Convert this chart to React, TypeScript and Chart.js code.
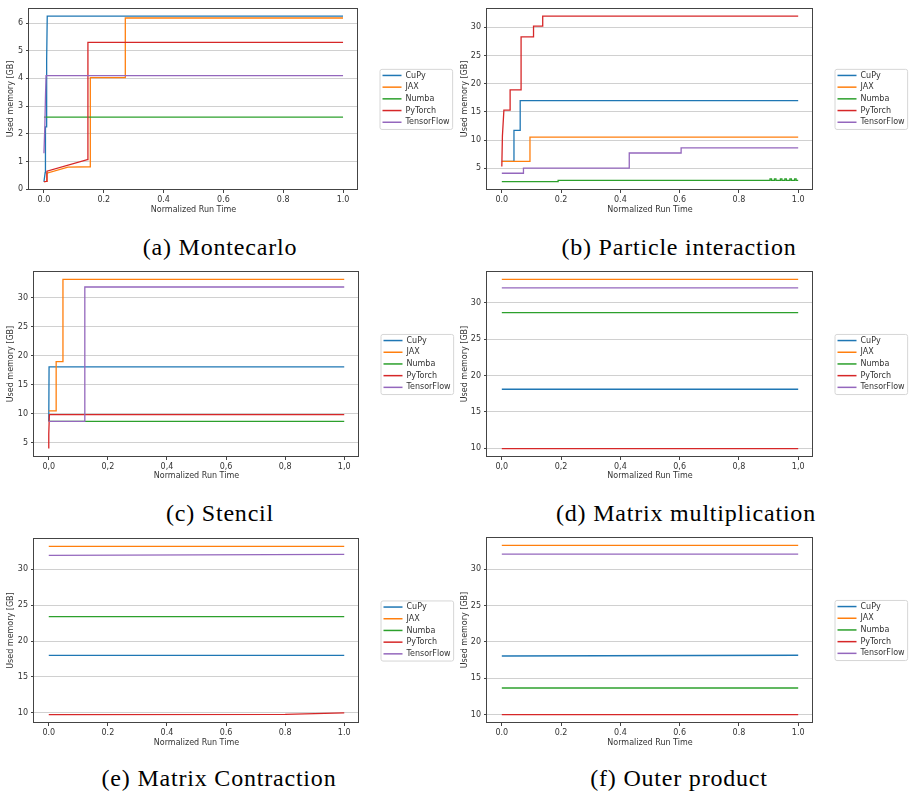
import React, { useEffect, useRef } from "react";
import { Chart, registerables } from "chart.js";

Chart.register(...registerables);

type Pt = [number, number];

// ---------- shared labels ----------
const seriesNames = ["CuPy", "JAX", "Numba", "PyTorch", "TensorFlow"];
const seriesColors = ["#1f77b4", "#ff7f0e", "#2ca02c", "#d62728", "#9467bd"];
const xTitle = "Normalized Run Time";
const yTitle = "Used memory [GB]";
const xTickValues = [0, 0.2, 0.4, 0.6, 0.8, 1.0];
const xTickLabelsDot = ["0.0", "0.2", "0.4", "0.6", "0.8", "1.0"];
const xTickLabelsComma = ["0,0", "0,2", "0,4", "0,6", "0,8", "1,0"];

// ---------- (a) Montecarlo ----------
const montecarloYTicks = [0, 1, 2, 3, 4, 5, 6];
const montecarloCuPy: Pt[] = [[0, 0.27], [0.004, 0.6], [0.005, 2.25], [0.008, 2.25], [0.009, 4.65], [0.011, 6.25], [1, 6.25]];
const montecarloJAX: Pt[] = [[0, 0.27], [0.008, 0.28], [0.01, 0.58], [0.08, 0.8], [0.155, 0.81], [0.155, 4.03], [0.272, 4.03], [0.272, 6.18], [1, 6.18]];
const montecarloNumba: Pt[] = [[0, 2.6], [1, 2.6]];
const montecarloPyTorch: Pt[] = [[0, 0.27], [0.008, 0.28], [0.01, 0.65], [0.145, 1.07], [0.147, 5.3], [1, 5.3]];
const montecarloTensorFlow: Pt[] = [[0, 1.3], [0.003, 2.3], [0.005, 3.3], [0.007, 4.1], [1, 4.1]];

// ---------- (b) Particle interaction ----------
const particleYTicks = [5, 10, 15, 20, 25, 30];
const particleCuPy: Pt[] = [[0, 6.2], [0.041, 6.2], [0.041, 11.7], [0.062, 11.7], [0.062, 17.0], [1, 17.0]];
const particleJAX: Pt[] = [[0, 6.2], [0.095, 6.2], [0.095, 10.5], [1, 10.5]];
const particleNumba: Pt[] = [
  [0, 2.6], [0.19, 2.6], [0.19, 2.85], [0.905, 2.85], [0.905, 3.1], [0.91, 3.1], [0.91, 2.85],
  [0.92, 2.85], [0.92, 3.1], [0.925, 3.1], [0.925, 2.85], [0.94, 2.85], [0.94, 3.1], [0.945, 3.1],
  [0.945, 2.85], [0.955, 2.85], [0.955, 3.1], [0.96, 3.1], [0.96, 2.85], [0.972, 2.85], [0.972, 3.1],
  [0.977, 3.1], [0.977, 2.85], [0.988, 2.85], [0.988, 3.1], [0.993, 3.1], [0.993, 2.85], [1, 2.85],
];
const particlePyTorch: Pt[] = [[0, 5.3], [0.002, 10.7], [0.007, 15.3], [0.028, 15.3], [0.028, 18.9], [0.065, 18.9], [0.065, 28.3], [0.107, 28.3], [0.107, 30.2], [0.138, 30.2], [0.138, 32.0], [1, 32.0]];
const particleTensorFlow: Pt[] = [[0, 4.1], [0.073, 4.1], [0.073, 5.0], [0.43, 5.0], [0.43, 7.7], [0.605, 7.7], [0.605, 8.6], [1, 8.6]];

// ---------- (c) Stencil ----------
const stencilYTicks = [5, 10, 15, 20, 25, 30];
const stencilCuPy: Pt[] = [[0, 8.7], [0.001, 18.1], [1, 18.1]];
const stencilJAX: Pt[] = [[0, 10.5], [0.025, 10.5], [0.025, 19.0], [0.048, 19.0], [0.048, 33.2], [1, 33.2]];
const stencilNumba: Pt[] = [[0, 8.7], [1, 8.7]];
const stencilPyTorch: Pt[] = [[0, 4.0], [0, 6.5], [0.002, 9.85], [1, 9.85]];
const stencilTensorFlow: Pt[] = [[0, 8.7], [0.122, 8.7], [0.122, 31.9], [1, 31.9]];

// ---------- (d) Matrix multiplication ----------
const matmulYTicks = [10, 15, 20, 25, 30];
const matmulCuPy: Pt[] = [[0, 18.1], [1, 18.1]];
const matmulJAX: Pt[] = [[0, 33.2], [1, 33.2]];
const matmulNumba: Pt[] = [[0, 28.65], [1, 28.65]];
const matmulPyTorch: Pt[] = [[0, 9.95], [1, 9.95]];
const matmulTensorFlow: Pt[] = [[0, 32.05], [1, 32.05]];

// ---------- (e) Matrix Contraction ----------
const contractionYTicks = [10, 15, 20, 25, 30];
const contractionCuPy: Pt[] = [[0, 18.0], [1, 18.0]];
const contractionJAX: Pt[] = [[0, 33.15], [1, 33.15]];
const contractionNumba: Pt[] = [[0, 23.4], [1, 23.4]];
const contractionPyTorch: Pt[] = [[0, 9.77], [0.8, 9.8], [1, 10.0]];
const contractionTensorFlow: Pt[] = [[0, 31.9], [1, 32.05]];

// ---------- (f) Outer product ----------
const outerYTicks = [10, 15, 20, 25, 30];
const outerCuPy: Pt[] = [[0, 18.05], [1, 18.15]];
const outerJAX: Pt[] = [[0, 33.25], [1, 33.25]];
const outerNumba: Pt[] = [[0, 13.65], [1, 13.65]];
const outerPyTorch: Pt[] = [[0, 10.0], [1, 10.0]];
const outerTensorFlow: Pt[] = [[0, 32.05], [1, 32.05]];

// ---------- layout (positions only) ----------
type Rect = { x: number; y: number; w: number; h: number };
type Area = { l: number; r: number; t: number; b: number };
type PanelCfg = {
  series: Pt[][];
  yTicks: number[];
  xLabels: string[];
  canvas: Rect;
  area: Area;
  yTitlePad: number;
  caption: string;
  capX: number;
  capBase: number;
};

const panels: PanelCfg[] = [
  {
    series: [montecarloCuPy, montecarloJAX, montecarloNumba, montecarloPyTorch, montecarloTensorFlow],
    yTicks: montecarloYTicks, xLabels: xTickLabelsDot,
    canvas: { x: 0, y: 0, w: 455, h: 215 }, area: { l: 29, r: 358, t: 5, b: 190 },
    yTitlePad: 6.5, caption: "(a) Montecarlo", capX: 220, capBase: 254.7,
  },
  {
    series: [particleCuPy, particleJAX, particleNumba, particlePyTorch, particleTensorFlow],
    yTicks: particleYTicks, xLabels: xTickLabelsDot,
    canvas: { x: 455, y: 0, w: 456, h: 215 }, area: { l: 487, r: 813, t: 5, b: 190 },
    yTitlePad: 5.2, caption: "(b) Particle interaction", capX: 679, capBase: 254.7,
  },
  {
    series: [stencilCuPy, stencilJAX, stencilNumba, stencilPyTorch, stencilTensorFlow],
    yTicks: stencilYTicks, xLabels: xTickLabelsComma,
    canvas: { x: 0, y: 262, w: 455, h: 219 }, area: { l: 34, r: 359, t: 271, b: 457 },
    yTitlePad: 6.5, caption: "(c) Stencil", capX: 220, capBase: 521.5,
  },
  {
    series: [matmulCuPy, matmulJAX, matmulNumba, matmulPyTorch, matmulTensorFlow],
    yTicks: matmulYTicks, xLabels: xTickLabelsComma,
    canvas: { x: 455, y: 262, w: 456, h: 219 }, area: { l: 487, r: 813, t: 271, b: 457 },
    yTitlePad: 5.2, caption: "(d) Matrix multiplication", capX: 686, capBase: 521.5,
  },
  {
    series: [contractionCuPy, contractionJAX, contractionNumba, contractionPyTorch, contractionTensorFlow],
    yTicks: contractionYTicks, xLabels: xTickLabelsDot,
    canvas: { x: 0, y: 528, w: 455, h: 220 }, area: { l: 34, r: 359, t: 538, b: 723 },
    yTitlePad: 6.5, caption: "(e) Matrix Contraction", capX: 219, capBase: 785.7,
  },
  {
    series: [outerCuPy, outerJAX, outerNumba, outerPyTorch, outerTensorFlow],
    yTicks: outerYTicks, xLabels: xTickLabelsDot,
    canvas: { x: 455, y: 528, w: 456, h: 220 }, area: { l: 487, r: 813, t: 537, b: 723 },
    yTitlePad: 5.2, caption: "(f) Outer product", capX: 679, capBase: 785.7,
  },
];

const FONT = '"DejaVu Sans"';
const TEXT_COLOR = "#333333";
const SPINE_COLOR = "#444444";
const GRID_COLOR = "#d0d0d0";

const framePlugin = {
  id: "mplFrame",
  afterDatasetsDraw(chart: any) {
    const { ctx, chartArea: ca } = chart;
    ctx.save();
    ctx.strokeStyle = SPINE_COLOR;
    ctx.lineWidth = 1;
    const l = Math.round(ca.left) - 0.5;
    const t = Math.round(ca.top) + 0.5;
    const r = Math.round(ca.right) - 0.5;
    const b = Math.round(ca.bottom) - 0.5;
    ctx.strokeRect(l, t, r - l, b - t);
    ctx.restore();
  },
};

const legendPlugin = {
  id: "mplLegend",
  afterDraw(chart: any) {
    const { ctx, chartArea: ca } = chart;
    const ds = chart.data.datasets;
    const rowH = 11.7;
    ctx.save();
    ctx.font = `8px ${FONT}`;
    let maxW = 0;
    ds.forEach((d: any) => { maxW = Math.max(maxW, ctx.measureText(d.label).width); });
    const boxW = 26 + maxW + 2.5;
    const boxH = (ds.length - 1) * rowH + 13.3;
    const left = ca.right + 21.5;
    const top = (ca.top + ca.bottom) / 2 - boxH / 2;
    ctx.beginPath();
    ctx.roundRect(left + 0.5, top + 0.5, boxW, boxH, 2);
    ctx.fillStyle = "rgba(255,255,255,0.8)";
    ctx.fill();
    ctx.strokeStyle = "#d6d6d6";
    ctx.lineWidth = 1;
    ctx.stroke();
    ds.forEach((d: any, i: number) => {
      const cy = top + 6.6 + i * rowH;
      ctx.beginPath();
      ctx.strokeStyle = d.borderColor;
      ctx.lineWidth = 1.5;
      ctx.moveTo(left + 3, cy);
      ctx.lineTo(left + 22, cy);
      ctx.stroke();
      ctx.fillStyle = TEXT_COLOR;
      ctx.textBaseline = "middle";
      ctx.textAlign = "left";
      ctx.fillText(d.label, left + 26, cy);
    });
    ctx.restore();
  },
};

function Panel({ cfg }: { cfg: PanelCfg }) {
  const ref = useRef<HTMLCanvasElement>(null);
  const c = cfg.canvas;
  useEffect(() => {
    const a = cfg.area;
    const allY = cfg.series.flatMap((s) => s.map((p) => p[1]));
    const lo = Math.min(...allY);
    const hi = Math.max(...allY);
    const m = (hi - lo) * 0.05;
    const font = { family: FONT, size: 8 };
    const chart = new Chart(ref.current as HTMLCanvasElement, {
      type: "line",
      data: {
        datasets: cfg.series.map((s, i) => ({
          label: seriesNames[i],
          data: s.map(([x, y]) => ({ x, y })),
          borderColor: seriesColors[i],
          backgroundColor: seriesColors[i],
          borderWidth: 1.3,
          pointRadius: 0,
          pointHoverRadius: 0,
          tension: 0,
          fill: false,
          order: seriesNames.length - 1 - i,
        })),
      },
      options: {
        animation: false,
        responsive: false,
        devicePixelRatio: 1,
        events: [],
        layout: { padding: { left: 0, top: a.t - c.y, right: c.x + c.w - a.r, bottom: 0 } },
        plugins: { legend: { display: false }, tooltip: { enabled: false } },
        scales: {
          x: {
            type: "linear",
            min: -0.05,
            max: 1.05,
            afterBuildTicks: (s: any) => { s.ticks = xTickValues.map((v) => ({ value: v })); },
            afterFit: (s: any) => { s.height = c.y + c.h - a.b; },
            ticks: {
              font, color: TEXT_COLOR, padding: 2, maxRotation: 0, autoSkip: false,
              callback: (v: any) => {
                const k = xTickValues.findIndex((t) => Math.abs(t - Number(v)) < 1e-9);
                return k >= 0 ? cfg.xLabels[k] : "";
              },
            },
            grid: { drawOnChartArea: false, tickLength: 3, color: SPINE_COLOR, tickColor: SPINE_COLOR },
            border: { display: false },
            title: { display: true, text: xTitle, font, color: TEXT_COLOR, padding: 0 },
          },
          y: {
            type: "linear",
            min: lo - m,
            max: hi + m,
            afterBuildTicks: (s: any) => { s.ticks = cfg.yTicks.map((v) => ({ value: v })); },
            afterFit: (s: any) => { s.width = a.l - c.x; },
            ticks: { font, color: TEXT_COLOR, padding: 3, callback: (v: any) => String(v) },
            grid: { color: GRID_COLOR, lineWidth: 1, tickLength: 3, tickColor: SPINE_COLOR },
            border: { display: false },
            title: { display: true, text: yTitle, font, color: TEXT_COLOR, padding: { top: cfg.yTitlePad, bottom: 0 } },
          },
        },
      } as any,
      plugins: [framePlugin, legendPlugin],
    });
    return () => chart.destroy();
  }, []);
  return (
    <canvas
      ref={ref}
      width={c.w}
      height={c.h}
      style={{ position: "absolute", left: c.x, top: c.y, width: c.w, height: c.h }}
    />
  );
}

export default function App() {
  return (
    <div style={{ position: "absolute", left: 0, top: 0, width: 911, height: 795, background: "#ffffff", overflow: "hidden" }}>
      {panels.map((p, i) => (
        <Panel key={i} cfg={p} />
      ))}
      {panels.map((p, i) => (
        <div
          key={"cap" + i}
          style={{
            position: "absolute",
            left: p.capX - 200,
            width: 400,
            top: p.capBase - 20.1,
            textAlign: "center",
            fontFamily: '"Liberation Serif", serif',
            fontSize: 24,
            lineHeight: "24px",
            letterSpacing: "0.8px",
            color: "#000",
            whiteSpace: "nowrap",
          }}
        >
          {p.caption}
        </div>
      ))}
    </div>
  );
}
